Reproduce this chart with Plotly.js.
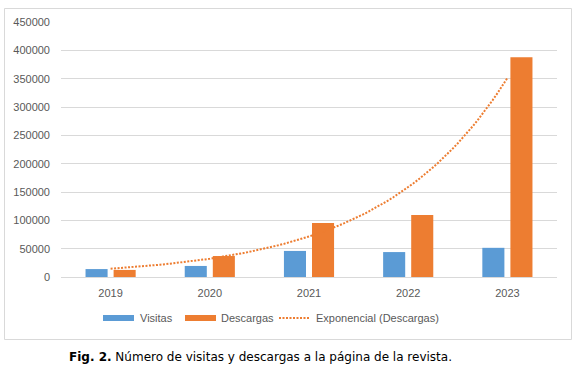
<!DOCTYPE html>
<html><head><meta charset="utf-8">
<script src="https://cdn.plot.ly/plotly-3.0.1.min.js"></script>
<style>html,body{margin:0;padding:0;background:#fff}#chart{width:577px;height:368px}</style>
</head><body><div id="chart"></div>
<script>
const years = [2019, 2020, 2021, 2022, 2023];
const visitas = [14000, 19500, 46000, 44000, 51500];
const descargas = [12500, 37000, 95500, 109500, 388000];
const yTicks = [0, 50000, 100000, 150000, 200000, 250000, 300000, 350000, 400000, 450000];
const legendLabels = ['Visitas', 'Descargas', 'Exponencial (Descargas)'];
const caption = '<b>Fig. 2.</b> Número de visitas y descargas a la página de la revista.';

// Exponential least-squares trendline of Descargas (as Excel computes it)
const n = years.length;
const xs = years.map((_, i) => i + 1);
const ls = descargas.map(v => Math.log(v));
const mx = xs.reduce((a, b) => a + b, 0) / n;
const my = ls.reduce((a, b) => a + b, 0) / n;
let sxy = 0, sxx = 0;
for (let i = 0; i < n; i++) { sxy += (xs[i] - mx) * (ls[i] - my); sxx += (xs[i] - mx) ** 2; }
const b = sxy / sxx, a = my - b * mx;
const trendX = [], trendY = [];
for (let t = 1; t <= n + 1e-9; t += 0.05) { trendX.push(years[0] + t - 1); trendY.push(Math.exp(a + b * t)); }

const blue = '#5B9BD5', orange = '#ED7D31';
const font = 'Liberation Sans, Arial, sans-serif';

const traces = [
  {type: 'bar', x: years, y: visitas, name: legendLabels[0], marker: {color: blue}, showlegend: false, hoverinfo: 'skip'},
  {type: 'bar', x: years, y: descargas, name: legendLabels[1], marker: {color: orange}, showlegend: false, hoverinfo: 'skip'},
  {type: 'scatter', mode: 'lines', x: trendX, y: trendY, name: legendLabels[2], line: {color: orange, width: 2, dash: '2px,1.5px'}, showlegend: false, hoverinfo: 'skip'}
];

// pixel helpers for paper coords (plot area: x 61..557, y 22..277)
const L = 61, R = 557, T = 22, B = 277;
const px = x => (x - L) / (R - L);
const py = y => (B - y) / (B - T);

const shapes = [
  {type: 'rect', xref: 'paper', yref: 'paper', x0: px(4.5), x1: px(571.5), y0: py(8.5), y1: py(339.5), line: {color: '#d9d9d9', width: 1}, fillcolor: 'rgba(0,0,0,0)', layer: 'below'},
  {type: 'rect', xref: 'paper', yref: 'paper', x0: px(103), x1: px(134), y0: py(321), y1: py(315), line: {width: 0}, fillcolor: blue},
  {type: 'rect', xref: 'paper', yref: 'paper', x0: px(185), x1: px(216), y0: py(321), y1: py(315), line: {width: 0}, fillcolor: orange},
  {type: 'line', xref: 'paper', yref: 'paper', x0: px(279), x1: px(310), y0: py(318), y1: py(318), line: {color: orange, width: 2, dash: '2px,1.5px'}}
];

const annotations = [
  {xref: 'paper', yref: 'paper', x: px(138), y: py(318), text: legendLabels[0], showarrow: false, xanchor: 'left', yanchor: 'middle', font: {family: font, size: 11, color: '#595959'}},
  {xref: 'paper', yref: 'paper', x: px(219), y: py(318), text: legendLabels[1], showarrow: false, xanchor: 'left', yanchor: 'middle', font: {family: font, size: 11, color: '#595959'}},
  {xref: 'paper', yref: 'paper', x: px(314), y: py(318), text: legendLabels[2], showarrow: false, xanchor: 'left', yanchor: 'middle', font: {family: font, size: 11, color: '#595959'}},
  {xref: 'paper', yref: 'paper', x: px(260), y: py(357), text: caption, showarrow: false, xanchor: 'center', yanchor: 'middle', font: {family: 'DejaVu Sans, Verdana, sans-serif', size: 12, color: '#000'}}
];

const layout = {
  width: 577, height: 368,
  margin: {l: L, r: 577 - R, t: T, b: 368 - B, pad: 0},
  paper_bgcolor: '#fff', plot_bgcolor: '#fff',
  barmode: 'group', bargap: 0.434, bargroupgap: 0.214,
  xaxis: {type: 'linear', range: [2018.5, 2023.5], tickvals: years, ticktext: years.map(String), showgrid: false, zeroline: false,
    showline: true, linecolor: '#d9d9d9', linewidth: 1, ticks: '', ticklabelstandoff: 6, tickfont: {family: font, size: 11, color: '#595959'}, fixedrange: true},
  yaxis: {range: [0, 450000], tickvals: yTicks, ticktext: yTicks.map(String), showgrid: true, gridcolor: '#d9d9d9', gridwidth: 1, zeroline: false,
    showline: false, ticks: '', ticklabelstandoff: 10, tickfont: {family: font, size: 11, color: '#595959'}, fixedrange: true},
  shapes: shapes, annotations: annotations, showlegend: false
};

Plotly.newPlot('chart', traces, layout, {displayModeBar: false, staticPlot: true});
</script></body></html>
